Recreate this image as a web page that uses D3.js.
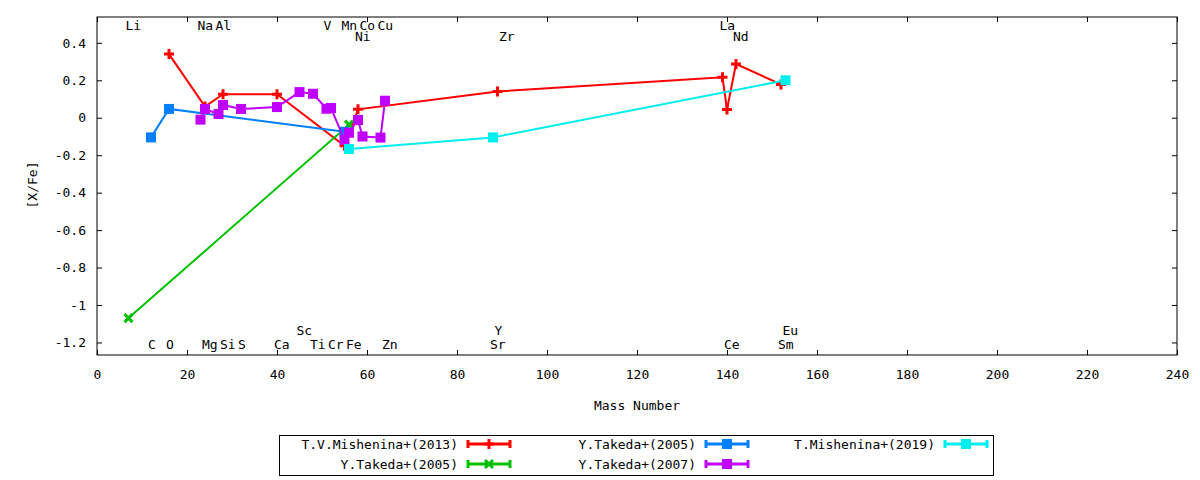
<!DOCTYPE html>
<html>
<head>
<meta charset="utf-8">
<script src="https://cdn.jsdelivr.net/npm/d3@7"></script>
<style>
    body { margin: 0; background: #fff; }
    svg text { font-family: "DejaVu Sans Mono", monospace; font-size: 13px; fill: #000; }
</style>
</head>
<body>
<div id="chart"></div>
<script>
// ===== data (mass number, [X/Fe]) =====
const mishenina2013Mass = [16, 24, 28, 40, 55, 58, 89, 139, 140, 142, 152];
const mishenina2013Val  = [0.34, 0.06, 0.126, 0.126, -0.15, 0.045, 0.14, 0.216, 0.044, 0.287, 0.178];

const takeda2005aMass = [7, 56];
const takeda2005aVal  = [-1.07, -0.037];

const takeda2005bMass = [12, 16, 55];
const takeda2005bVal  = [-0.105, 0.047, -0.075];

const takeda2007Mass = [23, 24, 27, 28, 32, 40, 45, 48, 51, 52, 55, 56, 58, 59, 63, 64];
const takeda2007Val  = [-0.01, 0.047, 0.02, 0.068, 0.047, 0.057, 0.137, 0.128, 0.048, 0.052, -0.118, -0.08, -0.012, -0.1, -0.106, 0.091];

const mishenina2019Mass = [56, 88, 153];
const mishenina2019Val  = [-0.167, -0.105, 0.2];

// element labels, four rows
const topRowNames = ["Li", "Na", "Al", "V", "Mn", "Co", "Cu", "La"];
const topRowMass  = [7, 23, 27, 51, 55, 59, 63, 139];
const top2RowNames = ["Ni", "Zr", "Nd"];
const top2RowMass  = [58, 90, 142];
const bottomRowNames = ["C", "O", "Mg", "Si", "S", "Ca", "Ti", "Cr", "Fe", "Zn", "Sr", "Ce", "Sm"];
const bottomRowMass  = [12, 16, 24, 28, 32, 40, 48, 52, 56, 64, 88, 140, 152];
const bottom2RowNames = ["Sc", "Y", "Eu"];
const bottom2RowMass  = [45, 89, 153];

const xTicks = d3.range(0, 241, 20);
const yTicks = [-1.2, -1, -0.8, -0.6, -0.4, -0.2, 0, 0.2, 0.4];

const series = [
    { name: "T.V.Mishenina+(2013)", mass: mishenina2013Mass, val: mishenina2013Val, color: "#ff0000", marker: "plus" },
    { name: "Y.Takeda+(2005)", mass: takeda2005aMass, val: takeda2005aVal, color: "#00c000", marker: "cross" },
    { name: "Y.Takeda+(2005)", mass: takeda2005bMass, val: takeda2005bVal, color: "#0080ff", marker: "square" },
    { name: "Y.Takeda+(2007)", mass: takeda2007Mass, val: takeda2007Val, color: "#c000ff", marker: "square" },
    { name: "T.Mishenina+(2019)", mass: mishenina2019Mass, val: mishenina2019Val, color: "#00eeee", marker: "square" }
];

// ===== layout =====
const width = 1200, height = 480;
const plotLeft = 97, plotRight = 1177, plotTop = 17, plotBottom = 355;

const svg = d3.select("#chart").append("svg")
    .attr("width", width)
    .attr("height", height);

const x = d3.scaleLinear().domain([0, 240]).range([plotLeft, plotRight]);
const y = d3.scaleLinear().domain([-1.267, 0.538]).range([plotBottom, plotTop]);

const fmt = d => String(+d.toFixed(1));

// axes, ticks pointing inward, mirrored on top and right
svg.append("g")
    .attr("transform", `translate(0,${plotBottom})`)
    .call(d3.axisBottom(x).tickValues(xTicks).tickFormat(fmt).tickSizeInner(-5).tickSizeOuter(0).tickPadding(15));
svg.append("g")
    .attr("transform", `translate(0,${plotTop})`)
    .call(d3.axisTop(x).tickValues(xTicks).tickFormat("").tickSizeInner(-5).tickSizeOuter(0));
svg.append("g")
    .attr("transform", `translate(${plotLeft},0)`)
    .call(d3.axisLeft(y).tickValues(yTicks).tickFormat(fmt).tickSizeInner(-5).tickSizeOuter(0).tickPadding(11));
svg.append("g")
    .attr("transform", `translate(${plotRight},0)`)
    .call(d3.axisRight(y).tickValues(yTicks).tickFormat("").tickSizeInner(-5).tickSizeOuter(0));

svg.selectAll(".domain").remove();
svg.selectAll(".tick line").attr("stroke", "#000");
svg.selectAll(".tick text").style("font-family", "DejaVu Sans Mono").style("font-size", "13px");

svg.append("rect")
    .attr("x", plotLeft).attr("y", plotTop)
    .attr("width", plotRight - plotLeft).attr("height", plotBottom - plotTop)
    .attr("fill", "none").attr("stroke", "#000").attr("stroke-width", 1);

// axis titles
svg.append("text")
    .attr("x", (plotLeft + plotRight) / 2).attr("y", 405)
    .attr("text-anchor", "middle").attr("dy", "0.35em")
    .text("Mass Number");
svg.append("text")
    .attr("transform", "translate(32,185) rotate(-90)")
    .attr("text-anchor", "middle").attr("dy", "0.35em")
    .text("[X/Fe]");

// element labels (left aligned at the mass number)
function labelRow(names, masses, level) {
    svg.append("g").selectAll("text")
        .data(names)
        .join("text")
        .attr("x", (d, k) => x(masses[k]) - 3)
        .attr("y", y(level))
        .attr("dy", "0.35em")
        .text(d => d);
}
labelRow(topRowNames, topRowMass, 0.492);
labelRow(top2RowNames, top2RowMass, 0.436);
labelRow(bottomRowNames, bottomRowMass, -1.21);
labelRow(bottom2RowNames, bottom2RowMass, -1.135);

// markers
function drawMarker(sel, type, color) {
    if (type === "square") {
        sel.append("rect")
            .attr("x", -5).attr("y", -5).attr("width", 10).attr("height", 10)
            .attr("fill", color);
    } else if (type === "plus") {
        sel.append("path")
            .attr("d", "M-5,0H5M0,-5V5")
            .attr("stroke", color).attr("stroke-width", 3).attr("fill", "none");
    } else {
        sel.append("path")
            .attr("d", "M-4,-4L4,4M-4,4L4,-4")
            .attr("stroke", color).attr("stroke-width", 3).attr("fill", "none");
    }
}

const line = d3.line().x(d => x(d[0])).y(d => y(d[1]));

series.forEach(s => {
    const pts = s.mass.map((m, k) => [m, s.val[k]]);
    const g = svg.append("g");
    g.append("path")
        .attr("d", line(pts))
        .attr("fill", "none")
        .attr("stroke", s.color)
        .attr("stroke-width", 2);
    g.selectAll(".pt")
        .data(pts)
        .join("g")
        .attr("class", "pt")
        .attr("transform", d => `translate(${x(d[0])},${y(d[1])})`)
        .each(function () { drawMarker(d3.select(this), s.marker, s.color); });
});

// ===== legend =====
svg.append("rect")
    .attr("x", 279.5).attr("y", 435.5)
    .attr("width", 714).attr("height", 40)
    .attr("fill", "none").attr("stroke", "#000").attr("stroke-width", 1);

const legendCols = [458, 696, 935];
const legendRows = [444, 464];
series.forEach((s, k) => {
    const col = Math.floor(k / 2), row = k % 2;
    const tx = legendCols[col], ty = legendRows[row];
    const g = svg.append("g");
    g.append("text")
        .attr("x", tx).attr("y", ty)
        .attr("text-anchor", "end").attr("dy", "0.35em")
        .text(s.name);
    const x0 = tx + 10, x1 = tx + 52;
    g.append("path")
        .attr("d", `M${x0},${ty}H${x1}M${x0},${ty - 4}V${ty + 4}M${x1},${ty - 4}V${ty + 4}`)
        .attr("stroke", s.color).attr("stroke-width", 3).attr("fill", "none");
    const m = g.append("g").attr("transform", `translate(${(x0 + x1) / 2},${ty})`);
    drawMarker(m, s.marker, s.color);
});
</script>
</body>
</html>
